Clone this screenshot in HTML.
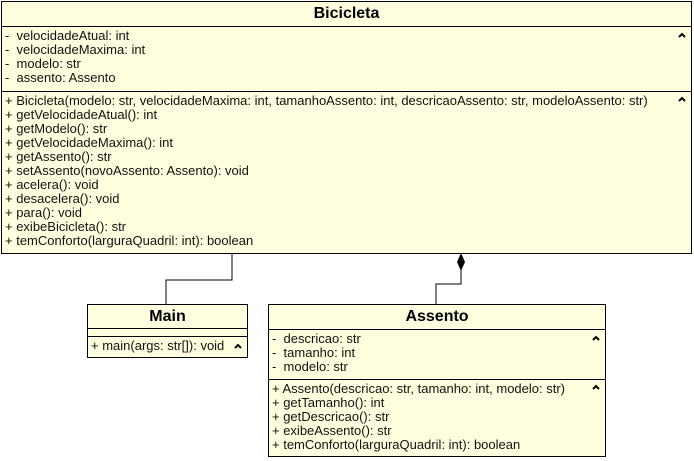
<!DOCTYPE html>
<html><head><style>
body{margin:0;width:694px;height:461px;background:#fff;position:relative;font-family:"Liberation Sans",Arial,sans-serif;overflow:hidden}
.box{position:absolute;background:#ffffe0;border:1px solid #000;box-sizing:border-box}
.h{position:absolute;left:0;right:0;text-align:center;font-weight:bold;font-size:16px}
.sep{position:absolute;left:0;right:0;border-top:1px solid #000}
.t{position:absolute;left:3px;font-size:13px;line-height:14px;white-space:pre;color:#111}
.c{position:absolute;width:8px;height:6px}
</style></head><body>
<svg width="694" height="461" style="position:absolute;left:0;top:0">
<polyline points="232,253 232,280 166,280 166,304" fill="none" stroke="#000"/>
<polyline points="461,270 461,284 436,284 436,304" fill="none" stroke="#000"/>
<polygon points="461,253 465,262 461,271 457,262" fill="#000"/>
</svg>
<div class="box" style="left:1px;top:1px;width:691px;height:253px">
<div class="h" style="top:3px">Bicicleta</div>
<div class="sep" style="top:24px"></div>
<div class="t" style="top:27px">-  velocidadeAtual: int
-  velocidadeMaxima: int
-  modelo: str
-  assento: Assento</div>
<svg class="c" style="right:5px;top:30px"><polyline points="1,5 4,2 7,5" fill="none" stroke="#000" stroke-width="2"/></svg>
<div class="sep" style="top:89px"></div>
<div class="t" style="top:92px">+ Bicicleta(modelo: str, velocidadeMaxima: int, tamanhoAssento: int, descricaoAssento: str, modeloAssento: str)
+ getVelocidadeAtual(): int
+ getModelo(): str
+ getVelocidadeMaxima(): int
+ getAssento(): str
+ setAssento(novoAssento: Assento): void
+ acelera(): void
+ desacelera(): void
+ para(): void
+ exibeBicicleta(): str
+ temConforto(larguraQuadril: int): boolean</div>
<svg class="c" style="right:5px;top:94px"><polyline points="1,5 4,2 7,5" fill="none" stroke="#000" stroke-width="2"/></svg>
</div>
<div class="box" style="left:87px;top:304px;width:161px;height:54px">
<div class="h" style="top:3px">Main</div>
<div class="sep" style="top:23px"></div>
<div class="sep" style="top:31px"></div>
<div class="t" style="top:34px">+ main(args: str[]): void</div>
<svg class="c" style="right:5px;top:38px"><polyline points="1,5 4,2 7,5" fill="none" stroke="#000" stroke-width="2"/></svg>
</div>
<div class="box" style="left:268px;top:304px;width:338px;height:153px">
<div class="h" style="top:3px">Assento</div>
<div class="sep" style="top:24px"></div>
<div class="t" style="top:27px">-  descricao: str
-  tamanho: int
-  modelo: str</div>
<svg class="c" style="right:5px;top:30px"><polyline points="1,5 4,2 7,5" fill="none" stroke="#000" stroke-width="2"/></svg>
<div class="sep" style="top:74px"></div>
<div class="t" style="top:77px">+ Assento(descricao: str, tamanho: int, modelo: str)
+ getTamanho(): int
+ getDescricao(): str
+ exibeAssento(): str
+ temConforto(larguraQuadril: int): boolean</div>
<svg class="c" style="right:5px;top:79px"><polyline points="1,5 4,2 7,5" fill="none" stroke="#000" stroke-width="2"/></svg>
</div>
</body></html>
